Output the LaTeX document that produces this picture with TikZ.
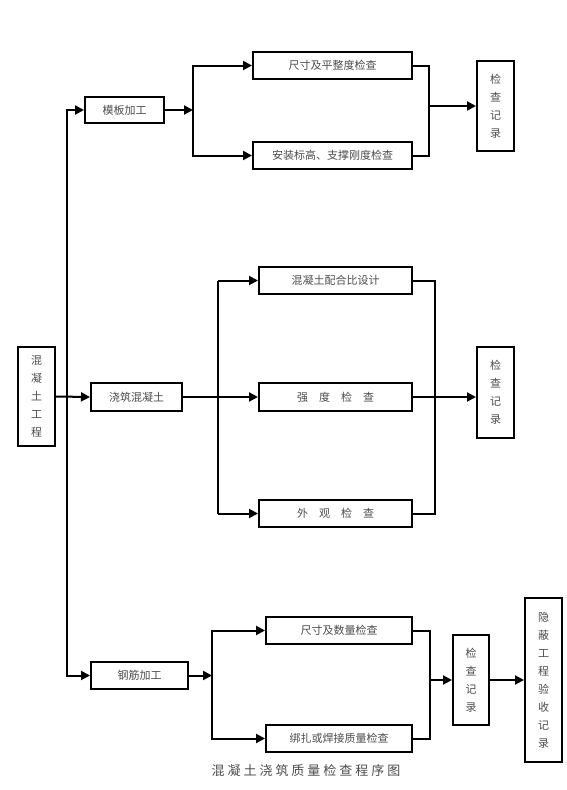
\documentclass[tikz,border=0pt]{standalone}
\usepackage{fontspec}
\usepackage{tikz}
\usetikzlibrary{arrows.meta, calc}
\newfontfamily\cjk{Noto Sans CJK SC}
\newfontfamily\capfont[LetterSpace=23]{Noto Sans CJK SC}

\begin{document}
\begin{tikzpicture}[
    x=1pt, y=-1pt,
    box/.style={rectangle, draw, line width=2pt, inner sep=0pt, align=center,
        text=black!70, font=\cjk\fontsize{11}{18}\selectfont},
    link/.style={line width=2pt},
    arr/.style={link, -{Triangle[length=9pt,width=9pt]}}
]
\useasboundingbox (0,0) rectangle (566,790);

% left column
\node[box, minimum width=37pt, minimum height=99pt] (main) at (36.5,396.5) {混\\凝\\土\\工\\程};
\node[box, minimum width=79pt, minimum height=26pt] (mb) at (124.5,110) {模板加工};
\node[box, minimum width=91pt, minimum height=28pt] (jz) at (136.5,397) {浇筑混凝土};
\node[box, minimum width=97pt, minimum height=27pt] (gj) at (139.5,675.5) {钢筋加工};

% checks
\node[box, minimum width=159pt, minimum height=27pt] (cc) at (332.5,65.5) {尺寸及平整度检查};
\node[box, minimum width=159pt, minimum height=27pt] (az) at (332.5,155.5) {安装标高、支撑刚度检查};
\node[box, minimum width=153pt, minimum height=27pt] (ph) at (335.5,280.5) {混凝土配合比设计};
\node[box, minimum width=153pt, minimum height=28pt] (qd) at (335.5,397) {强\hspace{1em}度\hspace{1em}检\hspace{1em}查};
\node[box, minimum width=153pt, minimum height=27pt] (wg) at (335.5,513.5) {外\hspace{1em}观\hspace{1em}检\hspace{1em}查};
\node[box, minimum width=146pt, minimum height=27pt] (sl) at (339,630.5) {尺寸及数量检查};
\node[box, minimum width=146pt, minimum height=27pt] (bz) at (339,738.5) {绑扎或焊接质量检查};

% records
\node[box, minimum width=37pt, minimum height=90pt] (jl1) at (495.5,106) {检\\查\\记\\录};
\node[box, minimum width=37pt, minimum height=91pt] (jl2) at (495.5,392.5) {检\\查\\记\\录};
\node[box, minimum width=36pt, minimum height=90pt] (jl3) at (471,680) {检\\查\\记\\录};
\node[box, minimum width=37pt, minimum height=164pt] (yb) at (543.5,680) {隐\\蔽\\工\\程\\验\\收\\记\\录};

\node[text=black!70, font=\capfont\fontsize{13}{15}\selectfont] (title) at (306,771) {混凝土浇筑质量检查程序图};

% junctions
\coordinate (t) at (67,0);
\coordinate (s1) at (193,0);
\coordinate (m1) at (429,0);
\coordinate (s2) at (218,0);
\coordinate (m2) at (435,0);
\coordinate (s3) at (212,0);
\coordinate (m3) at (430,0);

% trunk
\draw[arr] (main.east) -- (jz.west);
\draw[arr] (t |- main.east) |- (mb.west);
\draw[arr] (t |- main.east) |- (gj.west);

% formwork
\draw[arr] (mb.east) -- (mb.east -| s1);
\draw[arr] (s1 |- mb.east) |- (cc.west);
\draw[arr] (s1 |- mb.east) |- (az.west);
\draw[link] (cc.east) -| (m1 |- jl1.west);
\draw[link] (az.east) -| (m1 |- jl1.west);
\draw[arr] (m1 |- jl1.west) -- (jl1.west);

% pouring
\draw[arr] (jz.east) -- (qd.west);
\draw[link] (s2 |- ph.west) -- (s2 |- wg.west);
\draw[arr] (s2 |- ph.west) -- (ph.west);
\draw[arr] (s2 |- wg.west) -- (wg.west);
\draw[link] (ph.east) -| (m2 |- wg.east) -- (wg.east);
\draw[arr] (qd.east) -- (jl2.west |- qd.east);

% rebar
\draw[arr] (gj.east) -- (gj.east -| s3);
\draw[arr] (s3 |- gj.east) |- (sl.west);
\draw[arr] (s3 |- gj.east) |- (bz.west);
\draw[link] (sl.east) -| (m3 |- jl3.west);
\draw[link] (bz.east) -| (m3 |- jl3.west);
\draw[arr] (m3 |- jl3.west) -- (jl3.west);
\draw[arr] (jl3.east) -- (yb.west);
\end{tikzpicture}
\end{document}
